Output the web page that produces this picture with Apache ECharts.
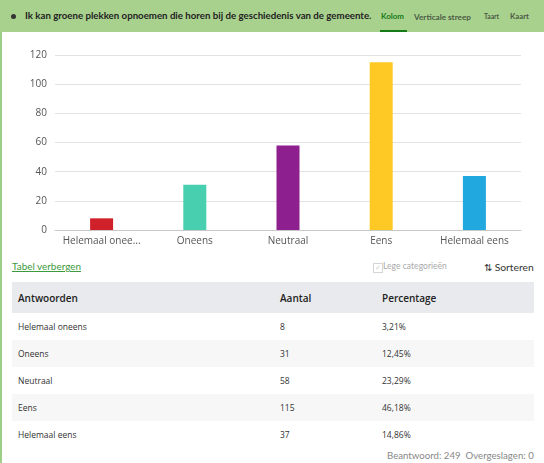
<!DOCTYPE html>
<html>
<head>
<meta charset="utf-8">
<script src="https://cdn.jsdelivr.net/npm/echarts@6/dist/echarts.min.js"></script>
<style>
  body { margin: 0; width: 544px; height: 463px; background: #fff; font-family: "Open Sans", sans-serif; position: relative; overflow: hidden; }
  .leftbar { position: absolute; left: 0; top: 0; width: 2px; height: 463px; background: #9fcf86; }
  .header { position: absolute; left: 0; top: 0; width: 544px; height: 32px; background: #a9d18e; }
  .header .dot { position: absolute; left: 11px; top: 14px; width: 5px; height: 5px; border-radius: 50%; background: #333; }
  .fit { position: absolute; white-space: nowrap; line-height: 1; font-family: Lato, sans-serif; }
  .title { left: 25px; top: 11px; font-size: 11px; font-weight: 700; color: #222; }
  .tab { top: 13px; font-size: 9px; font-weight: 700; color: #4a5a44; }
  .tab.active { color: #167a16; }
  .underline { position: absolute; left: 380px; top: 30px; width: 27px; height: 2px; background: #167a16; }
  #chart { position: absolute; left: 0; top: 32px; width: 544px; height: 225px; }
  .link { left: 12px; top: 262px; font-size: 10px; color: #3c9a3c; text-decoration: underline; }
  .chk { position: absolute; left: 373px; top: 263px; width: 8px; height: 8px; border: 1px solid #d5d5d5; font-size: 7px; line-height: 8px; text-align: center; color: #ccc; }
  .lege { left: 383px; top: 262px; font-size: 10px; color: #aaa; }
  .sort { left: 484px; top: 262px; font-size: 10px; color: #333; }
  table { position: absolute; left: 12px; top: 282px; width: 522px; border-collapse: collapse; font-size: 8.5px; color: #333; }
  th { background: #e9eaee; height: 31px; text-align: left; font-weight: 600; font-size: 10px; color: #222; padding: 0 0 0 6px; }
  td { height: 27px; padding: 0 0 0 6px; box-sizing: border-box; }
  tr:nth-child(odd) td { background: #f7f7f7; }
  .footer { left: 387px; top: 451px; font-size: 9.5px; color: #888; }
</style>
</head>
<body>
<div class="leftbar"></div>
<div class="header">
  <div class="dot"></div>
  <div class="fit title" data-w="347">Ik kan groene plekken opnoemen die horen bij de geschiedenis van de gemeente.</div>
  <div class="fit tab active" style="left:381px" data-w="23">Kolom</div>
  <div class="fit tab" style="left:414px" data-w="57">Verticale streep</div>
  <div class="fit tab" style="left:484px" data-w="15">Taart</div>
  <div class="fit tab" style="left:510px" data-w="19">Kaart</div>
  <div class="underline"></div>
</div>
<div id="chart"></div>
<div class="fit link" data-w="69">Tabel verbergen</div>
<div class="chk">&#10003;</div>
<div class="fit lege" data-w="64">Lege categorieën</div>
<div class="fit sort" data-w="50">&#8645; Sorteren</div>
<table id="tbl"></table>
<div class="fit footer" data-w="147">Beantwoord: 249&nbsp; Overgeslagen: 0</div>
<script>
const categories = ["Helemaal oneens", "Oneens", "Neutraal", "Eens", "Helemaal eens"];
const counts = [8, 31, 58, 115, 37];
const percentages = ["3,21%", "12,45%", "23,29%", "46,18%", "14,86%"];
const barColors = ["#d0202a", "#47cfb0", "#8e1f8e", "#fec925", "#21a9df"];
const yTicks = [0, 20, 40, 60, 80, 100, 120];

const chart = echarts.init(document.getElementById("chart"));
chart.setOption({
  animation: false,
  grid: { left: 55, right: 23, top: 23, bottom: 27 },
  xAxis: {
    type: "category",
    data: categories,
    axisLine: { lineStyle: { color: "#c8c8c8" } },
    axisTick: { alignWithLabel: true, length: 3, lineStyle: { color: "#999" } },
    axisLabel: {
      interval: 0,
      color: "#555", fontSize: 10, fontFamily: "Open Sans", margin: 6,
      formatter: function (v) { return v.length > 14 ? v.slice(0, 13) + "..." : v; }
    }
  },
  yAxis: {
    type: "value",
    min: yTicks[0], max: yTicks[yTicks.length - 1], interval: 20,
    axisLine: { show: false },
    axisTick: { show: false },
    axisLabel: { color: "#555", fontSize: 10, fontFamily: "Open Sans", margin: 8 },
    splitLine: { lineStyle: { color: "#e2e2e2" } }
  },
  series: [{
    type: "bar",
    barWidth: 23,
    data: counts.map(function (v, i) { return { value: v, itemStyle: { color: barColors[i] } }; })
  }]
});

let html = "<tr><th style='width:256px'>Antwoorden</th><th style='width:96px'>Aantal</th><th>Percentage</th></tr>";
categories.forEach(function (c, i) {
  html += "<tr><td>" + c + "</td><td>" + counts[i] + "</td><td>" + percentages[i] + "</td></tr>";
});
document.getElementById("tbl").innerHTML = html;

// shrink the font of each text so it spans the width seen in the reference
document.querySelectorAll(".fit").forEach(function (el) {
  const w = el.getBoundingClientRect().width;
  const fs = parseFloat(getComputedStyle(el).fontSize);
  el.style.fontSize = (fs * +el.dataset.w / w) + "px";
});
</script>
</body>
</html>
